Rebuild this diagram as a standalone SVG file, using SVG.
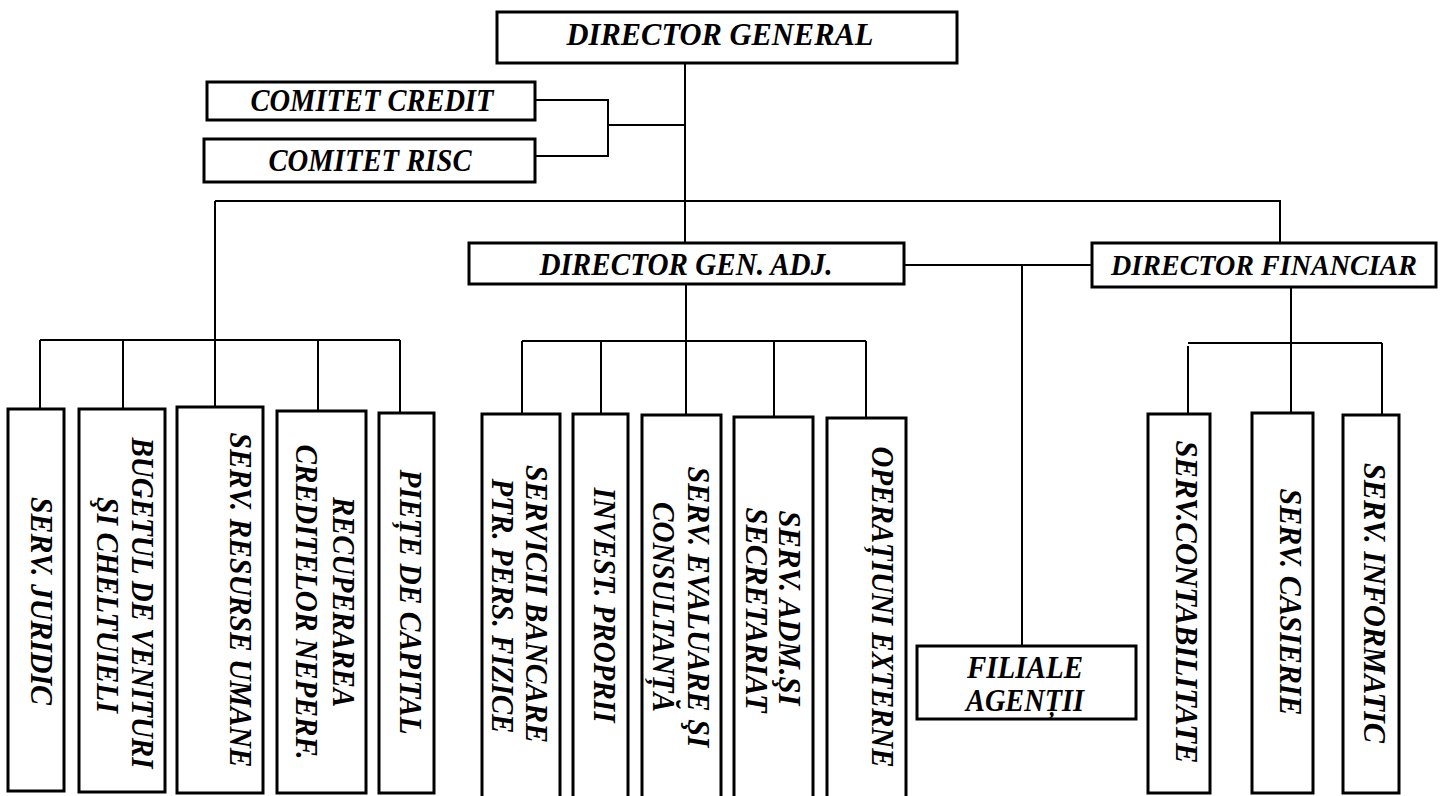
<svg xmlns="http://www.w3.org/2000/svg" width="1440" height="796" viewBox="0 0 1440 796">
<style>
.box{fill:#fff;stroke:#000;stroke-width:3}
.ln{fill:none;stroke:#000;stroke-width:2}
text{font-family:"Liberation Serif","Times New Roman",serif;font-weight:bold;font-style:italic;font-size:31.5px;fill:#000}
.h{text-anchor:middle}
.v{text-anchor:middle}
</style>
<rect width="1440" height="796" fill="#fff"/>
<g id="connectors">
<path class="ln" d="M685,63 V243"/>
<path class="ln" d="M535,100 H608 V156 H535 M608,125 H685"/>
<path class="ln" d="M215,201 H1280 V243"/>
<path class="ln" d="M215,201 V340"/>
<path class="ln" d="M40,340 H400"/>
<path class="ln" d="M40,340 V409 M123,340 V409 M215,340 V407 M318,340 V411 M400,340 V413"/>
<path class="ln" d="M686,284 V341"/>
<path class="ln" d="M522,341 H866"/>
<path class="ln" d="M522,341 V414 M601,341 V414 M686,341 V415 M774,341 V417 M866,341 V418"/>
<path class="ln" d="M904,265 H1092"/>
<path class="ln" d="M1022,265 V646"/>
<path class="ln" d="M1291,287 V413"/>
<path class="ln" d="M1188,343 H1382"/>
<path class="ln" d="M1188,346 V414 M1382,343 V415"/>
</g>
<g id="director-general"><rect class="box" x="497" y="12" width="460" height="51"/><text class="h" x="720" y="45" textLength="307" lengthAdjust="spacingAndGlyphs">DIRECTOR GENERAL</text></g>
<g id="comitet-credit"><rect class="box" x="207" y="82" width="328" height="38"/><text class="h" x="372" y="111" textLength="243" lengthAdjust="spacingAndGlyphs">COMITET CREDIT</text></g>
<g id="comitet-risc"><rect class="box" x="204" y="139" width="331" height="43"/><text class="h" x="370" y="171" textLength="203" lengthAdjust="spacingAndGlyphs">COMITET RISC</text></g>
<g id="director-gen-adj"><rect class="box" x="469" y="243" width="435" height="41"/><text class="h" x="686" y="275" textLength="293" lengthAdjust="spacingAndGlyphs">DIRECTOR GEN. ADJ.</text></g>
<g id="director-financiar"><rect class="box" x="1092" y="243" width="344" height="44"/><text class="h" x="1264" y="275" style="font-size:28.5px" textLength="306" lengthAdjust="spacingAndGlyphs">DIRECTOR FINANCIAR</text></g>
<g id="filiale"><rect class="box" x="917" y="646" width="219" height="73"/><text class="h" x="1025" y="678" textLength="116" lengthAdjust="spacingAndGlyphs">FILIALE</text><text class="h" x="1025" y="711" textLength="118" lengthAdjust="spacingAndGlyphs">AGENȚII</text></g>
<g id="serv-juridic"><rect class="box" x="8" y="409" width="56" height="382"/><g transform="translate(31,601) rotate(90)"><text class="v" x="0" y="0" textLength="208" lengthAdjust="spacingAndGlyphs">SERV. JURIDIC</text></g></g>
<g id="bugetul"><rect class="box" x="79" y="409" width="86" height="383"/><g transform="translate(132,603) rotate(90)"><text class="v" x="0" y="0" textLength="331" lengthAdjust="spacingAndGlyphs">BUGETUL DE VENITURI</text><text class="v" x="2" y="35" textLength="216" lengthAdjust="spacingAndGlyphs">ŞI CHELTUIELI</text></g></g>
<g id="resurse-umane"><rect class="box" x="177" y="407" width="86" height="386"/><g transform="translate(230,600) rotate(90)"><text class="v" x="0" y="0" textLength="335" lengthAdjust="spacingAndGlyphs">SERV. RESURSE UMANE</text></g></g>
<g id="recuperarea"><rect class="box" x="277" y="411" width="89" height="382"/><g transform="translate(333,602) rotate(90)"><text class="v" x="0" y="0" textLength="210" lengthAdjust="spacingAndGlyphs">RECUPERAREA</text><text class="v" x="0" y="37" textLength="315" lengthAdjust="spacingAndGlyphs">CREDITELOR NEPERF.</text></g></g>
<g id="piete-capital"><rect class="box" x="379" y="413" width="55" height="380"/><g transform="translate(400,602) rotate(90)"><text class="v" x="0" y="0" textLength="265" lengthAdjust="spacingAndGlyphs">PIEȚE DE CAPITAL</text></g></g>
<g id="servicii-bancare"><rect class="box" x="482" y="414" width="78" height="390"/><g transform="translate(526,604) rotate(90)"><text class="v" x="0" y="0" textLength="278" lengthAdjust="spacingAndGlyphs">SERVICII BANCARE</text><text class="v" x="2" y="34" textLength="255" lengthAdjust="spacingAndGlyphs">PTR. PERS. FIZICE</text></g></g>
<g id="invest-proprii"><rect class="box" x="573" y="414" width="55" height="390"/><g transform="translate(594,605) rotate(90)"><text class="v" x="0" y="0" textLength="235" lengthAdjust="spacingAndGlyphs">INVEST. PROPRII</text></g></g>
<g id="evaluare"><rect class="box" x="642" y="415" width="79" height="390"/><g transform="translate(688,607) rotate(90)"><text class="v" x="0" y="0" textLength="281" lengthAdjust="spacingAndGlyphs">SERV. EVALUARE ŞI</text><text class="v" x="0" y="35" textLength="210" lengthAdjust="spacingAndGlyphs">CONSULTANȚĂ</text></g></g>
<g id="adm-secretariat"><rect class="box" x="734" y="417" width="79" height="390"/><g transform="translate(779,608) rotate(90)"><text class="v" x="0" y="0" textLength="195" lengthAdjust="spacingAndGlyphs">SERV. ADM.ŞI</text><text class="v" x="2" y="33" textLength="205" lengthAdjust="spacingAndGlyphs">SECRETARIAT</text></g></g>
<g id="operatiuni-externe"><rect class="box" x="827" y="418" width="79" height="390"/><g transform="translate(872,607) rotate(90)"><text class="v" x="0" y="0" textLength="321" lengthAdjust="spacingAndGlyphs">OPERAȚIUNI EXTERNE</text></g></g>
<g id="contabilitate"><rect class="box" x="1148" y="414" width="62" height="379"/><g transform="translate(1176,602) rotate(90)"><text class="v" x="0" y="0" textLength="323" lengthAdjust="spacingAndGlyphs">SERV.CONTABILITATE</text></g></g>
<g id="casierie"><rect class="box" x="1252" y="413" width="61" height="380"/><g transform="translate(1280,602) rotate(90)"><text class="v" x="0" y="0" textLength="227" lengthAdjust="spacingAndGlyphs">SERV. CASIERIE</text></g></g>
<g id="informatic"><rect class="box" x="1343" y="415" width="56" height="378"/><g transform="translate(1364,603) rotate(90)"><text class="v" x="0" y="0" textLength="280" lengthAdjust="spacingAndGlyphs">SERV. INFORMATIC</text></g></g>
</svg>
